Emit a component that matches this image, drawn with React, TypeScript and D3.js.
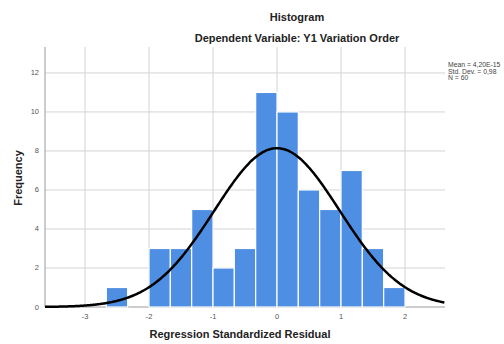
import React, { useEffect, useRef } from 'react';
import * as d3 from 'd3';

// histogram bins (lower edge, width 1/3) and counts
const binStarts = [-8 / 3, -2, -5 / 3, -4 / 3, -1, -2 / 3, -1 / 3, 0, 1 / 3, 2 / 3, 1, 4 / 3, 5 / 3];
const counts = [1, 3, 3, 5, 2, 3, 11, 10, 6, 5, 7, 3, 1];
const binWidth = 1 / 3;
const xTicks = [-3, -2, -1, 0, 1, 2];
const yTicks = [0, 2, 4, 6, 8, 10, 12];
const statLines = ['Mean = 4,20E-15', 'Std. Dev. = 0,98', 'N = 60'];
const mean = 0;
const sd = 0.98;
const n = 60;

const W = 504;
const H = 344;
const margin = { top: 47, right: 59, bottom: 37, left: 45 };

const App = () => {
  const svgRef = useRef<SVGSVGElement>(null);

  useEffect(() => {
    const svg = d3.select(svgRef.current);
    svg.selectAll('*').remove();

    const x = d3.scaleLinear().domain([-3.625, 2.625]).range([margin.left, W - margin.right]);
    const y = d3.scaleLinear().domain([0, 13.33]).range([H - margin.bottom, margin.top]);
    const font = 'Arial, "Liberation Sans", sans-serif';

    // grid
    svg.append('g')
      .selectAll('line.v')
      .data(xTicks)
      .enter()
      .append('line')
      .attr('x1', d => x(d)).attr('x2', d => x(d))
      .attr('y1', y.range()[1]).attr('y2', y.range()[0])
      .attr('stroke', '#d4d4d4').attr('stroke-width', 1);

    svg.append('g')
      .selectAll('line.h')
      .data(yTicks)
      .enter()
      .append('line')
      .attr('x1', margin.left).attr('x2', W - margin.right)
      .attr('y1', d => y(d)).attr('y2', d => y(d))
      .attr('stroke', d => (d === 0 ? '#9a9a9a' : '#d4d4d4')).attr('stroke-width', 1);

    // bars
    const data = binStarts.map((s, i) => ({ s, c: counts[i] }));
    svg.append('g')
      .selectAll('rect')
      .data(data)
      .enter()
      .append('rect')
      .attr('x', d => x(d.s))
      .attr('y', d => y(d.c))
      .attr('width', d => x(d.s + binWidth) - x(d.s))
      .attr('height', d => y(0) - y(d.c))
      .attr('fill', '#4f8fe3')
      .attr('stroke', '#ffffff')
      .attr('stroke-width', 1.2);

    // y axis line
    svg.append('line')
      .attr('x1', margin.left).attr('x2', margin.left)
      .attr('y1', y.range()[1]).attr('y2', y.range()[0])
      .attr('stroke', '#9a9a9a');

    // normal curve
    const scale = n * binWidth;
    const pts = d3.range(-3.625, 2.6251, 0.02).map(v => [
      v,
      (scale / (sd * Math.sqrt(2 * Math.PI))) * Math.exp(-0.5 * ((v - mean) / sd) ** 2),
    ]);
    svg.append('path')
      .datum(pts)
      .attr('d', d3.line<number[]>().x(d => x(d[0])).y(d => y(d[1])).curve(d3.curveBasis))
      .attr('fill', 'none')
      .attr('stroke', '#000000')
      .attr('stroke-width', 2.5);

    // tick labels
    svg.append('g')
      .selectAll('text')
      .data(yTicks)
      .enter()
      .append('text')
      .attr('x', margin.left - 6)
      .attr('y', d => y(d) + 2.5)
      .attr('text-anchor', 'end')
      .attr('font-family', font)
      .attr('font-size', 7.5)
      .attr('fill', '#555')
      .text(d => d);

    svg.append('g')
      .selectAll('text')
      .data(xTicks)
      .enter()
      .append('text')
      .attr('x', d => x(d))
      .attr('y', H - margin.bottom + 12)
      .attr('text-anchor', 'middle')
      .attr('font-family', font)
      .attr('font-size', 7.5)
      .attr('fill', '#555')
      .text(d => d);

    // titles
    svg.append('text')
      .attr('x', 297).attr('y', 21)
      .attr('text-anchor', 'middle')
      .attr('font-family', font).attr('font-size', 11).attr('font-weight', 'bold')
      .attr('fill', '#222')
      .text('Histogram');
    svg.append('text')
      .attr('x', 297).attr('y', 42)
      .attr('text-anchor', 'middle')
      .attr('font-family', font).attr('font-size', 11).attr('font-weight', 'bold')
      .attr('fill', '#222')
      .text('Dependent Variable: Y1 Variation Order');

    svg.append('text')
      .attr('x', (margin.left + W - margin.right) / 2 - 5).attr('y', 338)
      .attr('text-anchor', 'middle')
      .attr('font-family', font).attr('font-size', 11).attr('font-weight', 'bold')
      .attr('fill', '#222')
      .text('Regression Standardized Residual');

    svg.append('text')
      .attr('transform', `translate(22,178) rotate(-90)`)
      .attr('text-anchor', 'middle')
      .attr('font-family', font).attr('font-size', 11).attr('font-weight', 'bold')
      .attr('fill', '#222')
      .text('Frequency');

    // stats
    svg.append('g')
      .selectAll('text')
      .data(statLines)
      .enter()
      .append('text')
      .attr('x', 448)
      .attr('y', (d, i) => 67 + i * 6.5)
      .attr('font-family', font)
      .attr('font-size', 6.8)
      .attr('fill', '#444')
      .text(d => d);
  }, []);

  return (
    <svg
      ref={svgRef}
      width={W}
      height={H}
      style={{ position: 'absolute', left: 0, top: 0, background: '#ffffff' }}
    />
  );
};

export default App;
